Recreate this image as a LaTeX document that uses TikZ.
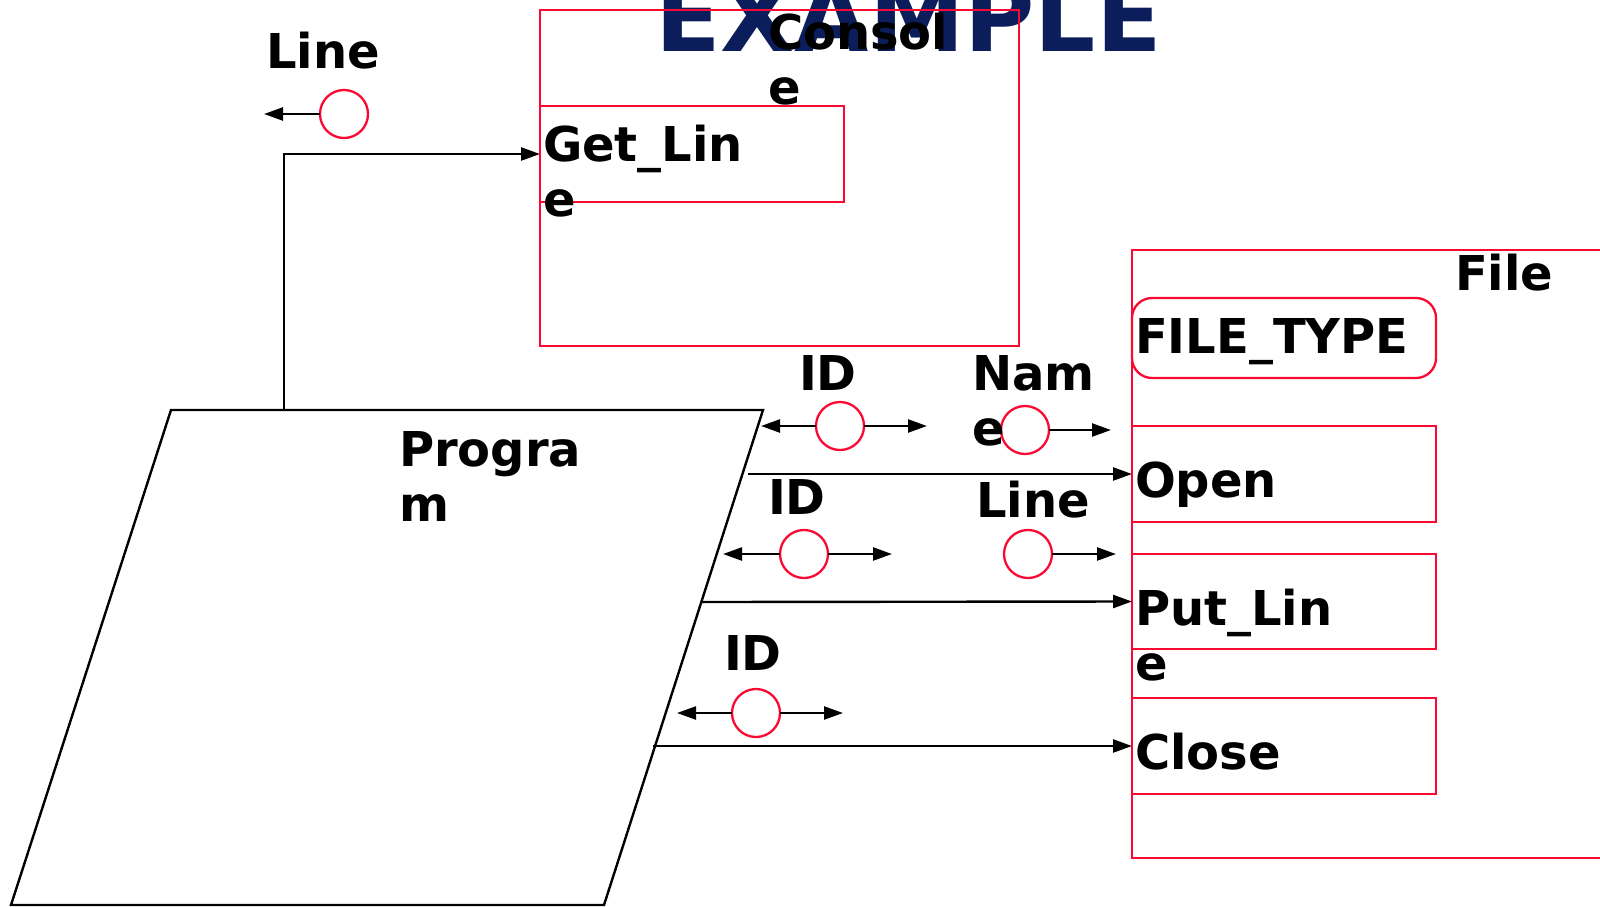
\documentclass[tikz,border=0pt]{standalone}
\usepackage{fontspec}
\setmainfont{DejaVu Sans}
\usetikzlibrary{arrows.meta}
\definecolor{boxred}{RGB}{250,10,50}
\definecolor{titlenavy}{RGB}{11,30,91}
% two text lines stacked, baseline at the first line
\newcommand{\stackedtext}[2]{\vtop{\hbox{#1}\hbox{#2}}}

\begin{document}
\begin{tikzpicture}[x=1pt,y=-1pt,
  lbl/.style={anchor=base west, inner sep=0pt, outer sep=0pt,
    font=\fontsize{48}{55.5}\selectfont\bfseries, text=black},
  redbox/.style={draw=boxred, line width=2.3pt, inner sep=0pt, outer sep=0pt,
    anchor=north west},
  port/.style={circle, draw=boxred, line width=2.3pt, minimum size=48pt,
    inner sep=0pt, outer sep=0pt},
  link/.style={draw=black, line width=2.4pt,
    -{Triangle[length=19pt,width=13pt]}},
]
\useasboundingbox (0,0) rectangle (1600,907);
\clip (0,0) rectangle (1600,907);

% title
\node[anchor=base west, inner sep=0pt, font=\fontsize{96}{100}\selectfont\bfseries,
  text=titlenavy] (title) at (655,52) {EXAMPLE};

% Console package with Get_Line
\node[redbox, minimum width=479pt, minimum height=336pt] (console) at (540,10) {};
\node[redbox, minimum width=304pt, minimum height=96pt] (getline) at (540,106) {};
\node[lbl] (consoletxt) at (768,49) {\stackedtext{Consol}{e}};
\node[lbl] (getlinetxt) at (543,161) {\stackedtext{Get\_Lin}{e}};

% File package
\node[redbox, minimum width=500pt, minimum height=608pt] (file) at (1132,250) {};
\node[redbox, rounded corners=20pt, minimum width=304pt, minimum height=80pt] (filetype) at (1132,298) {};
\node[redbox, minimum width=304pt, minimum height=96pt] (open) at (1132,426) {};
\node[redbox, minimum width=304pt, minimum height=95pt] (putline) at (1132,554) {};
\node[redbox, minimum width=304pt, minimum height=96pt] (close) at (1132,698) {};
\node[lbl] (filetxt) at (1455,290) {File};
\node[lbl] (filetypetxt) at (1135,353) {FILE\_TYPE};
\node[lbl] (opentxt) at (1135,497) {Open};
\node[lbl] (putlinetxt) at (1135,625) {\stackedtext{Put\_Lin}{e}};
\node[lbl] (closetxt) at (1135,769) {Close};

% Program
\coordinate (prog-nw) at (171,410);
\coordinate (prog-ne) at (763,410);
\coordinate (prog-se) at (604,905);
\coordinate (prog-sw) at (11,905);
\draw[line width=2.4pt, line join=miter] (prog-nw) -- (prog-ne) -- (prog-se) -- (prog-sw) -- cycle;
\node[lbl] (progtxt) at (399,466) {\stackedtext{Progra}{m}};

% connector start points on the Program outline
\coordinate (prog-up) at (284,410);
\coordinate (prog-open) at (748,474);
\coordinate (prog-put) at (702,602);
\coordinate (prog-close) at (653,746);

\draw[link] (prog-up) |- (getline.west);
\draw[link] (prog-open) -- (open.west);
\draw[link] (prog-put) -- (putline.west);
\draw[link] (prog-close) -- (close.west);

% data flow ports
\node[port] (lineport) at (344,114) {};
\node[lbl] (linetxt) at (266,68) {Line};
\coordinate (lineport-out) at (264,114);
\draw[link] (lineport.west) -- (lineport-out);

\node[port] (idA) at (840,426) {};
\node[lbl] (idAtxt) at (799,390) {ID};
\coordinate (idA-l) at (761,426);
\coordinate (idA-r) at (927,426);
\draw[link] (idA.west) -- (idA-l);
\draw[link] (idA.east) -- (idA-r);

\node[port] (nameport) at (1025,430) {};
\node[lbl] (nametxt) at (972,390) {\stackedtext{Nam}{e}};
\coordinate (name-r) at (1111,430);
\draw[link] (nameport.east) -- (name-r);

\node[port] (idB) at (804,554) {};
\node[lbl] (idBtxt) at (768,514) {ID};
\coordinate (idB-l) at (723,554);
\coordinate (idB-r) at (892,554);
\draw[link] (idB.west) -- (idB-l);
\draw[link] (idB.east) -- (idB-r);

\node[port] (lineB) at (1028,554) {};
\node[lbl] (lineBtxt) at (976,517) {Line};
\coordinate (lineB-r) at (1116,554);
\draw[link] (lineB.east) -- (lineB-r);

\node[port] (idC) at (756,713) {};
\node[lbl] (idCtxt) at (724,670) {ID};
\coordinate (idC-l) at (677,713);
\coordinate (idC-r) at (843,713);
\draw[link] (idC.west) -- (idC-l);
\draw[link] (idC.east) -- (idC-r);
\end{tikzpicture}
\end{document}
